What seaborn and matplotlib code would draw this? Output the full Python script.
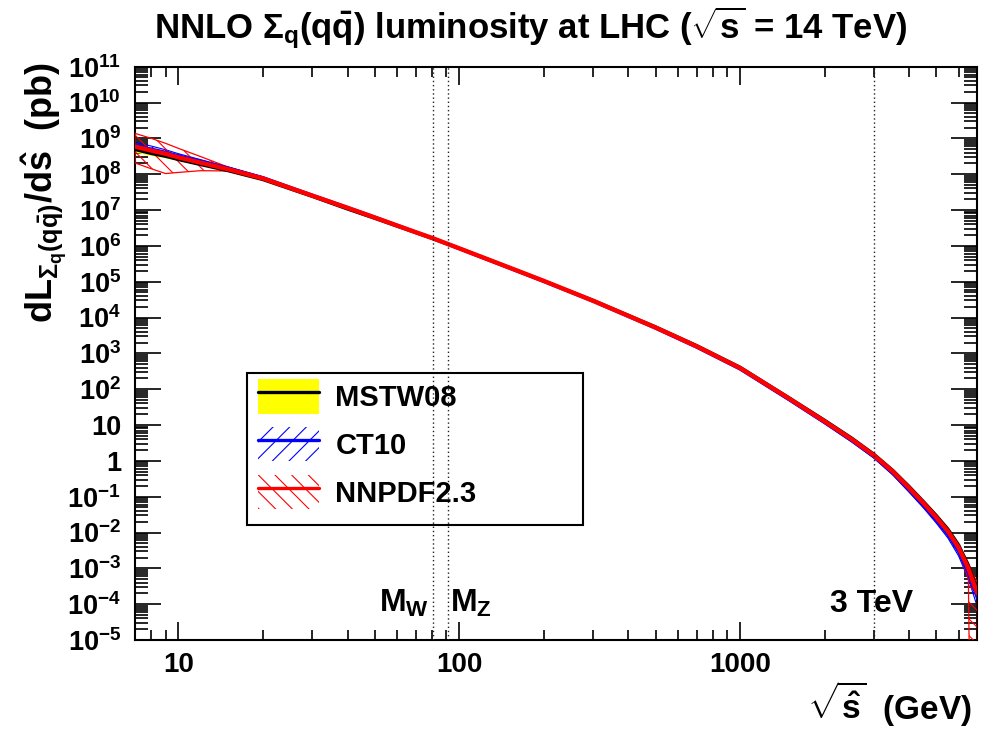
import numpy as np
import pandas as pd
import matplotlib
matplotlib.use("Agg")
import matplotlib.pyplot as plt
import matplotlib.ticker as mticker
from matplotlib.patches import Patch, Rectangle
from matplotlib.lines import Line2D
from matplotlib.legend_handler import HandlerTuple
import seaborn as sns

# ---------------- data ----------------
sqrt_s = [7, 8, 9, 10, 12, 15, 20, 30, 40, 50, 70, 80, 100, 150, 200, 300, 500,
          700, 1000, 1500, 2000, 2500, 3000, 3500, 4000, 4500, 5000, 5500, 6000,
          6500, 6700, 7000]

mstw = [4.9e8, 3.8e8, 3.16e8, 2.57e8, 1.86e8, 1.26e8, 7.08e7, 2.40e7, 1.07e7,
        5.89e6, 2.34e6, 1.62e6, 8.5e5, 2.51e5, 1.05e5, 2.99e4, 5.45e3, 1.64e3,
        4.07e2, 56.2, 13.5, 4.27, 1.51, 0.537, 0.191, 0.0724, 0.0295, 0.0123,
        4.47e-3, 1.2e-3, 6.3e-4, 2.5e-4]
mstw_err_pct = [18, 15, 12, 10, 7, 5, 4, 3, 3, 2.5, 2.5, 2.5, 2.5, 2.5, 2.5, 2.5,
                2.5, 3, 3, 3.5, 4, 4.5, 5, 6, 7, 8, 10, 12, 15, 20, 23, 30]

ct10 = [6.3e8, 5.0e8, 4.07e8, 3.24e8, 2.29e8, 1.48e8, 7.94e7, 2.57e7, 1.17e7,
        6.31e6, 2.40e6, 1.66e6, 8.41e5, 2.45e5, 1.02e5, 2.85e4, 5.07e3, 1.50e3,
        3.67e2, 50.1, 11.7, 3.63, 1.29, 0.447, 0.151, 0.0562, 0.0219, 8.7e-3,
        2.95e-3, 7.4e-4, 3.8e-4, 1.51e-4]
ct10_err_pct = [25, 22, 18, 15, 11, 8, 6, 4, 3.5, 3, 3, 3, 3, 3, 3, 3, 3, 3.5, 4,
                5, 6, 7, 8, 10, 12, 14, 17, 20, 25, 32, 36, 45]

nnpdf = [5.89e8, 4.57e8, 3.72e8, 2.95e8, 2.09e8, 1.38e8, 7.59e7, 2.51e7, 1.15e7,
         6.17e6, 2.40e6, 1.66e6, 8.51e5, 2.51e5, 1.05e5, 2.92e4, 5.26e3, 1.57e3,
         3.89e2, 53.7, 12.6, 3.98, 1.41, 0.501, 0.174, 0.0661, 0.0263, 0.0107,
         3.8e-3, 1.0e-3, 5.0e-4, 2.0e-4]
nnpdf_err_up_pct = [134, 119, 95, 78, 48, 15, 7, 4, 3, 2.5, 2.5, 2.5, 2.5, 2.5,
                    2.5, 2.5, 2.5, 3, 3, 3, 3, 3, 3, 4, 5, 7, 10, 14, 22, 40, 55, 100]
nnpdf_err_dn_pct = [65, 69, 72, 62, 40, 11, 6, 4, 3, 2.5, 2.5, 2.5, 2.5, 2.5,
                    2.5, 2.5, 2.5, 3, 3, 3, 3, 3, 3, 4, 5, 7, 10, 14, 25, 50, 100, 100]

y_tick_exponents = list(range(-5, 12))
x_major_ticks = [10, 100, 1000]
x_major_labels = ["10", "100", "1000"]
m_w, m_z, three_tev = 80.4, 91.19, 3000

legend_labels = ["MSTW08", "CT10", "NNPDF2.3"]

# ---------------- style ----------------
sns.set_theme(style="ticks")
FAM = "Liberation Sans"
plt.rcParams["font.family"] = [FAM, "DejaVu Sans"]
plt.rcParams["font.weight"] = "bold"
plt.rcParams["mathtext.fontset"] = "custom"
plt.rcParams["mathtext.rm"] = FAM + ":bold"
plt.rcParams["mathtext.it"] = FAM + ":bold"
plt.rcParams["mathtext.bf"] = FAM + ":bold"
plt.rcParams["mathtext.sf"] = FAM + ":bold"
plt.rcParams["mathtext.default"] = "rm"
plt.rcParams["hatch.linewidth"] = 0.8
plt.rcParams["axes.linewidth"] = 1.5
for k in ("text.color", "axes.labelcolor", "xtick.color", "ytick.color",
          "xtick.labelcolor", "ytick.labelcolor", "axes.edgecolor"):
    plt.rcParams[k] = "black"

fig = plt.figure(figsize=(9.82, 7.30), dpi=100)
ax = fig.add_axes([0.13747, 0.12329, 0.85785, 0.78534])
ax.set_xscale("log")
ax.set_yscale("log")

x = np.array(sqrt_s, dtype=float)
FLOOR = 1e-12


def band(c, up, dn):
    c = np.asarray(c, float)
    hi = c * (1 + np.asarray(up, float) / 100.0)
    lo = np.clip(c * (1 - np.asarray(dn, float) / 100.0), FLOOR, None)
    return lo, hi


lo, hi = band(mstw, mstw_err_pct, mstw_err_pct)
ax.fill_between(x, lo, hi, facecolor="#ffff00", edgecolor="none", zorder=1)
lo, hi = band(ct10, ct10_err_pct, ct10_err_pct)
ax.fill_between(x, lo, hi, facecolor="none", edgecolor="#0000ff", hatch="//",
                linewidth=0.8, zorder=2)
lo, hi = band(nnpdf, nnpdf_err_up_pct, nnpdf_err_dn_pct)
ax.fill_between(x, lo, hi, facecolor="none", edgecolor="#ff0000", hatch="\\\\",
                linewidth=0.9, zorder=3)

df = pd.concat([
    pd.DataFrame({"sqrt_s": sqrt_s, "lum": mstw, "pdf": "MSTW08"}),
    pd.DataFrame({"sqrt_s": sqrt_s, "lum": ct10, "pdf": "CT10"}),
    pd.DataFrame({"sqrt_s": sqrt_s, "lum": nnpdf, "pdf": "NNPDF2.3"}),
])
for name, col, lw, z in [("MSTW08", "#000000", 2.4, 4), ("CT10", "#0000ff", 2.4, 5),
                         ("NNPDF2.3", "#ff0000", 3.2, 6)]:
    sns.lineplot(data=df[df.pdf == name], x="sqrt_s", y="lum", color=col,
                 linewidth=lw, ax=ax, legend=False, estimator=None, zorder=z)

# reference lines
for xv in (m_w, m_z, three_tev):
    ax.axvline(xv, color="#222222", linestyle=(0, (1, 2)), linewidth=1.0, zorder=7)

ax.text(78.0, 5.9e-5, r"$M_W$", ha="right", va="baseline", fontsize=23, zorder=8)
ax.text(93.0, 5.9e-5, r"$M_Z$", ha="left", va="baseline", fontsize=23, zorder=8)
ax.text(2950, 5.9e-5, "3 TeV", ha="center", va="baseline", fontsize=23, zorder=8)

# axes
ax.set_xlim(7, 7000)
ax.set_ylim(1e-5, 1e11)
ax.xaxis.set_major_locator(mticker.FixedLocator(x_major_ticks))
ax.xaxis.set_major_formatter(mticker.FixedFormatter(x_major_labels))
ax.xaxis.set_minor_locator(mticker.LogLocator(base=10, subs=np.arange(2, 10), numticks=100))
ax.xaxis.set_minor_formatter(mticker.NullFormatter())
yt = [10.0 ** e for e in y_tick_exponents]
ylab = []
for e in y_tick_exponents:
    if e == 0:
        ylab.append("1")
    elif e == 1:
        ylab.append("10")
    else:
        ylab.append(r"$10^{%d}$" % e)
ax.yaxis.set_major_locator(mticker.FixedLocator(yt))
ax.yaxis.set_major_formatter(mticker.FixedFormatter(ylab))
ax.yaxis.set_minor_locator(mticker.LogLocator(base=10, subs=np.arange(2, 10), numticks=200))
ax.yaxis.set_minor_formatter(mticker.NullFormatter())

ax.tick_params(axis="x", which="major", direction="in", length=13, width=1.2,
               top=True, bottom=True, labelsize=20, pad=9, colors="black")
ax.tick_params(axis="x", which="minor", direction="in", length=7, width=1.2,
               top=True, bottom=True, colors="black")
ax.tick_params(axis="y", which="major", direction="in", length=18.5, width=1.2,
               left=True, right=True, labelsize=19.5, pad=10, colors="black")
ax.tick_params(axis="y", which="minor", direction="in", length=9.3, width=1.2,
               left=True, right=True, colors="black")
for sp in ax.spines.values():
    sp.set_visible(True)
    sp.set_color("black")
    sp.set_linewidth(1.5)
ax.set_xlabel("")
ax.set_ylabel("")

# titles / labels
fig.text(0.54, 1 - 28 / 730, r"NNLO $\Sigma_q(q\bar{q})$ luminosity at LHC ($\sqrt{s}$ = 14 TeV)",
         ha="center", va="center", fontsize=25, color="black")
fig.text(44 / 982, 1 - 62 / 730, r"$dL_{\Sigma_q(q\bar{q})}/d\hat{s}$  (pb)",
         rotation=90, ha="center", va="top", fontsize=26, color="black")
fig.text(972 / 982, 1 - 704 / 730, r"$\sqrt{\hat{s}}$  (GeV)", ha="right",
         va="center", fontsize=24, color="black")

# legend
handles = [
    (Patch(facecolor="#ffff00", edgecolor="none"), Line2D([], [], color="black", lw=2.4)),
    (Patch(facecolor="none", edgecolor="#0000ff", hatch="//", lw=0), Line2D([], [], color="#0000ff", lw=2.4)),
    (Patch(facecolor="none", edgecolor="#ff0000", hatch="\\\\", lw=0), Line2D([], [], color="#ff0000", lw=2.4)),
]
leg = fig.legend(handles, legend_labels, handler_map={tuple: HandlerTuple(ndivide=1)},
                 loc="upper left", bbox_to_anchor=(258 / 982, 1 - 379 / 730),
                 bbox_transform=fig.transFigure, frameon=False, fontsize=21,
                 handlelength=2.1, handleheight=1.45, labelspacing=0.45,
                 handletextpad=0.55, borderpad=0, borderaxespad=0)
for t in leg.get_texts():
    t.set_color("black")
fig.add_artist(Rectangle((247 / 982, 1 - 525 / 730), (583 - 247) / 982,
                         (525 - 373) / 730, transform=fig.transFigure,
                         fill=False, edgecolor="black", linewidth=1.5, zorder=10))

fig.savefig("out.png", dpi=100)
